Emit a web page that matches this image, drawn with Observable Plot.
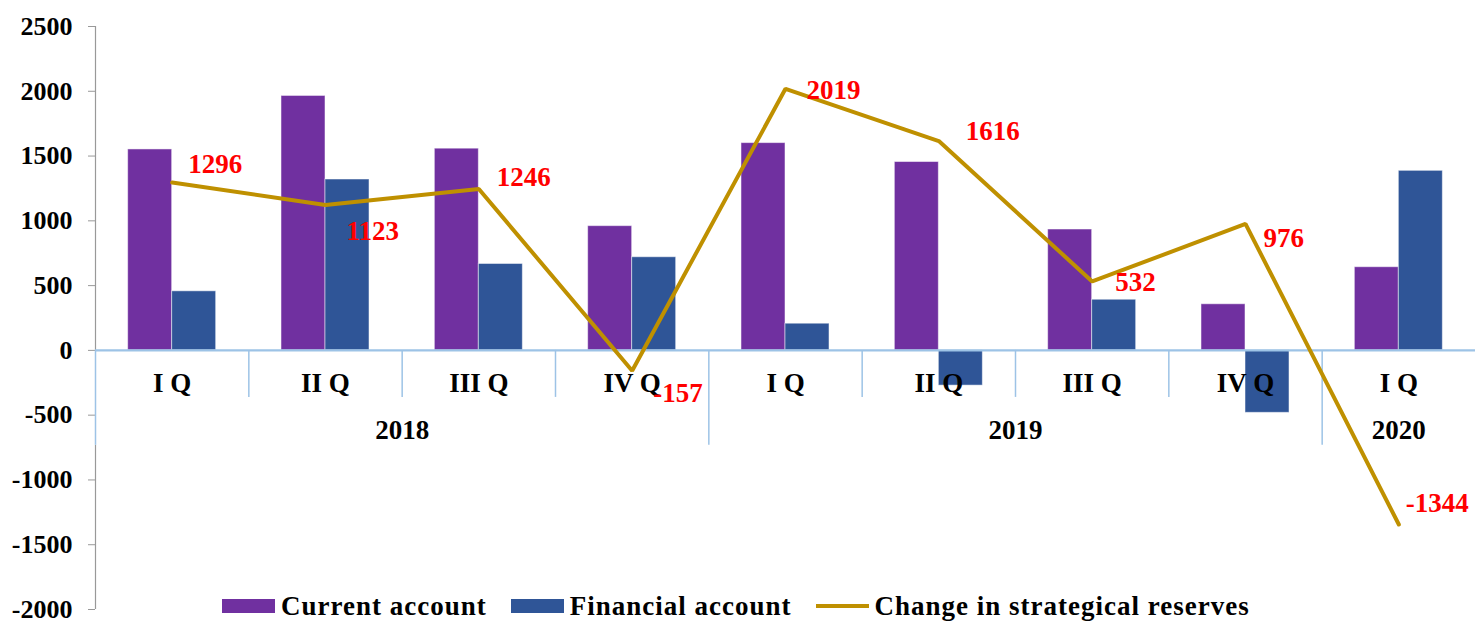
<!DOCTYPE html>
<html><head><meta charset="utf-8">
<script src="https://cdn.jsdelivr.net/npm/d3@7"></script>
<script src="https://cdn.jsdelivr.net/npm/@observablehq/plot@0.6"></script>
<style>
body{margin:0;background:#fff;}
#wrap{position:relative;width:1475px;height:621px;overflow:hidden;background:#fff;}
#legend{position:absolute;left:222px;top:591px;display:flex;align-items:center;font-family:"Liberation Serif","Times New Roman",serif;font-weight:bold;font-size:27px;letter-spacing:1px;color:#000;line-height:30px;white-space:nowrap;}
#legend .item{display:flex;align-items:center;margin-right:24px;}
#legend .sw{width:53px;height:14px;margin-right:6px;}
#legend .ln{width:53px;height:4px;margin-right:6px;}
</style></head>
<body><div id="wrap"><div id="chart"></div><div id="legend"></div></div>
<script>
// ---- data ----
const quarters = ["I Q","II Q","III Q","IV Q","I Q","II Q","III Q","IV Q","I Q"];
const years = ["2018","2018","2018","2018","2019","2019","2019","2019","2020"];
const currentAccount = [1551, 1964, 1557, 959, 1600, 1454, 933, 356, 642];
const financialAccount = [456, 1319, 667, 719, 206, -272, 391, -482, 1386];
const reserveChange = [1296, 1123, 1246, -157, 2019, 1616, 532, 976, -1344];
const yTicks = [-2000, -1500, -1000, -500, 0, 500, 1000, 1500, 2000, 2500];
const seriesNames = ["Current account", "Financial account", "Change in strategical reserves"];
const colors = ["#7030a0", "#2f5597", "#bf9000"];

// ---- layout (not data) ----
const barW = 0.287;              // bar width in category units
const catSepDepth = -363;        // category separator length below zero (y units)
const yearSepDepth = -733;       // year separator length below zero (y units)
const labelNudge = [[16,-18],[21,26],[18,-12],[21,23],[21,2],[27,-10],[23,1],[18,14],[7,-21]];

const rows = quarters.map((q, i) => ({
  i, center: i + 0.5, q, year: years[i],
  ca: currentAccount[i], fa: financialAccount[i], rc: reserveChange[i]
}));

const yearGroups = [];
years.forEach((y, i) => {
  const g = yearGroups.find(d => d.year === y);
  if (g) g.last = i; else yearGroups.push({year: y, first: i, last: i});
});
yearGroups.forEach(g => g.mid = (g.first + g.last + 1) / 2);
const yearStarts = yearGroups.map(g => g.first);
const catSeps = rows.map(d => d.i).filter(i => i > 0 && !yearStarts.includes(i));

const sepColor = "#9dc3e6";

const labelMarks = rows.map((d, k) => Plot.text([d], {
  x: "center", y: "rc", text: r => String(r.rc),
  textAnchor: "start", lineAnchor: "middle",
  fill: "#ff0000", fontSize: 27, fontWeight: "bold",
  dx: labelNudge[k][0], dy: labelNudge[k][1]
}));

const chart = Plot.plot({
  width: 1475, height: 621,
  marginLeft: 95, marginRight: 0, marginTop: 26, marginBottom: 12,
  x: {domain: [0, 9], axis: null},
  y: {domain: [-2000, 2500], axis: null},
  style: {fontFamily: '"Liberation Serif","Times New Roman",serif', fontWeight: "bold", fontSize: "26px", color: "#000", background: "transparent"},
  marks: [
    Plot.axisY({ticks: yTicks, tickFormat: d => String(d), tickSize: 7, tickPadding: 16, stroke: "#999", fill: "#000", fontSize: 26}),
    Plot.ruleX([0], {y1: 0, y2: 2500, stroke: "#999", strokeWidth: 1.2}),
    Plot.ruleX([0], {y1: yearSepDepth, y2: -2000, stroke: "#999", strokeWidth: 1.2}),
    Plot.rectY(rows, {x1: d => d.center - barW, x2: d => d.center, y1: 0, y2: "ca", fill: colors[0], stroke: "#ffffff", strokeOpacity: 0.5, strokeWidth: 1}),
    Plot.rectY(rows, {x1: d => d.center, x2: d => d.center + barW, y1: 0, y2: "fa", fill: colors[1], stroke: "#ffffff", strokeOpacity: 0.5, strokeWidth: 1}),
    Plot.ruleY([0], {stroke: sepColor, strokeWidth: 2.2}),
    Plot.ruleX(catSeps, {y1: 0, y2: catSepDepth, stroke: sepColor, strokeWidth: 1.5}),
    Plot.ruleX(yearStarts, {y1: 0, y2: yearSepDepth, stroke: sepColor, strokeWidth: 1.5}),
    Plot.text(rows, {x: "center", y: 0, text: "q", dy: 33, fill: "#000", fontSize: 27}),
    Plot.text(yearGroups, {x: "mid", y: 0, text: "year", dy: 80, fill: "#000", fontSize: 27}),
    Plot.lineY(rows, {x: "center", y: "rc", stroke: colors[2], strokeWidth: 4, strokeLinejoin: "miter"}),
    ...labelMarks
  ]
});
document.getElementById("chart").appendChild(chart);

// legend
const legend = document.getElementById("legend");
seriesNames.forEach((name, k) => {
  const item = document.createElement("div");
  item.className = "item";
  const sw = document.createElement("div");
  sw.className = k < 2 ? "sw" : "ln";
  sw.style.background = colors[k];
  const t = document.createElement("span");
  t.textContent = name;
  item.appendChild(sw); item.appendChild(t);
  legend.appendChild(item);
});
</script>
</body></html>
